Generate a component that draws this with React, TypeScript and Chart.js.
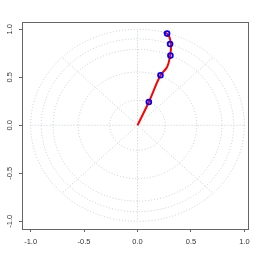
import React, { useEffect, useRef } from "react";
import { Chart, registerables } from "chart.js";

Chart.register(...registerables);

// Observed points (blue open circles)
const pointX = [0.106, 0.215, 0.308, 0.305, 0.277];
const pointY = [0.243, 0.521, 0.726, 0.847, 0.955];

// Red smooth curve from origin
const curveX = [0, 0.106, 0.215, 0.277, 0.305, 0.313, 0.29, 0.246];
const curveY = [0, 0.243, 0.521, 0.607, 0.726, 0.833, 0.94, 0.97];

// Polar grid
const gridRadii = [0.26, 0.555, 0.79, 0.9, 1.0];
const gridAngles = [0, 45, 90, 135, 180, 225, 270, 315];

// Axis ticks
const xTicks = [-1, -0.5, 0, 0.5, 1];
const yTicks = [-1, -0.5, 0, 0.5, 1];

const polarGridPlugin = {
  id: "polarGrid",
  beforeDatasetsDraw(chart: any) {
    const { ctx, scales } = chart;
    const xs = scales.x;
    const ys = scales.y;
    const cx = xs.getPixelForValue(0);
    const cy = ys.getPixelForValue(0);
    ctx.save();
    ctx.strokeStyle = "#c4ccd2";
    ctx.lineWidth = 1;
    ctx.setLineDash([1, 2]);
    for (const r of gridRadii) {
      const rx = xs.getPixelForValue(r) - cx;
      const ry = cy - ys.getPixelForValue(r);
      ctx.beginPath();
      ctx.ellipse(cx, cy, rx, ry, 0, 0, Math.PI * 2);
      ctx.stroke();
    }
    for (const a of gridAngles) {
      const rad = (a * Math.PI) / 180;
      ctx.beginPath();
      ctx.moveTo(cx, cy);
      ctx.lineTo(xs.getPixelForValue(Math.cos(rad)), ys.getPixelForValue(Math.sin(rad)));
      ctx.stroke();
    }
    ctx.restore();
  },
};

const boxPlugin = {
  id: "boxPlugin",
  afterDraw(chart: any) {
    const { ctx, chartArea } = chart;
    ctx.save();
    ctx.strokeStyle = "#666";
    ctx.lineWidth = 1;
    ctx.strokeRect(
      Math.round(chartArea.left) + 0.5,
      Math.round(chartArea.top) + 0.5,
      Math.round(chartArea.right - chartArea.left),
      Math.round(chartArea.bottom - chartArea.top)
    );
    ctx.restore();
  },
};

export default function App() {
  const ref = useRef<HTMLCanvasElement>(null);
  useEffect(() => {
    if (!ref.current) return;
    const chart = new Chart(ref.current, {
      type: "scatter",
      data: {
        datasets: [
          {
            data: pointX.map((x, i) => ({ x, y: pointY[i] })),
            showLine: false,
            pointRadius: 2.4,
            pointBorderWidth: 1.8,
            pointBorderColor: "#0000ff",
            pointBackgroundColor: "rgba(0,0,0,0)",
            order: 0,
          },
          {
            data: curveX.map((x, i) => ({ x, y: curveY[i] })),
            showLine: true,
            borderColor: "#ff0000",
            borderWidth: 2,
            pointRadius: 0,
            tension: 0.4,
            order: 1,
          },
        ],
      },
      options: {
        animation: false,
        responsive: false,
        devicePixelRatio: 1,
        layout: { padding: { top: 22, right: 11, left: 0, bottom: 0 } },
        plugins: { legend: { display: false }, tooltip: { enabled: false } },
        scales: {
          x: {
            type: "linear",
            min: -1.081,
            max: 1.034,
            afterBuildTicks: (s: any) => {
              s.ticks = xTicks.map((v) => ({ value: v }));
            },
            afterFit: (s: any) => {
              s.height = 30;
            },
            grid: { drawOnChartArea: false, drawTicks: true, tickLength: 3, color: "#666" },
            border: { display: false },
            ticks: {
              padding: 5,
              maxRotation: 0,
              minRotation: 0,
              color: "#333",
              font: { family: "Liberation Sans, Arial, sans-serif", size: 7.5 },
              callback: (v: any) => Number(v).toFixed(1),
            },
          },
          y: {
            type: "linear",
            min: -1.08,
            max: 1.076,
            afterBuildTicks: (s: any) => {
              s.ticks = yTicks.map((v) => ({ value: v }));
            },
            afterFit: (s: any) => {
              s.width = 22;
            },
            grid: { drawOnChartArea: false, drawTicks: true, tickLength: 3, color: "#666" },
            border: { display: false },
            ticks: {
              padding: 3,
              minRotation: 90,
              maxRotation: 90,
              crossAlign: "center",
              color: "#333",
              font: { family: "Liberation Sans, Arial, sans-serif", size: 7.5 },
              callback: (v: any) => Number(v).toFixed(1),
            },
          },
        },
      },
      plugins: [polarGridPlugin, boxPlugin],
    });
    return () => chart.destroy();
  }, []);
  return (
    <div style={{ position: "fixed", left: 0, top: 0, width: 259, height: 259, background: "#fff" }}>
      <canvas ref={ref} width={259} height={259} />
    </div>
  );
}
